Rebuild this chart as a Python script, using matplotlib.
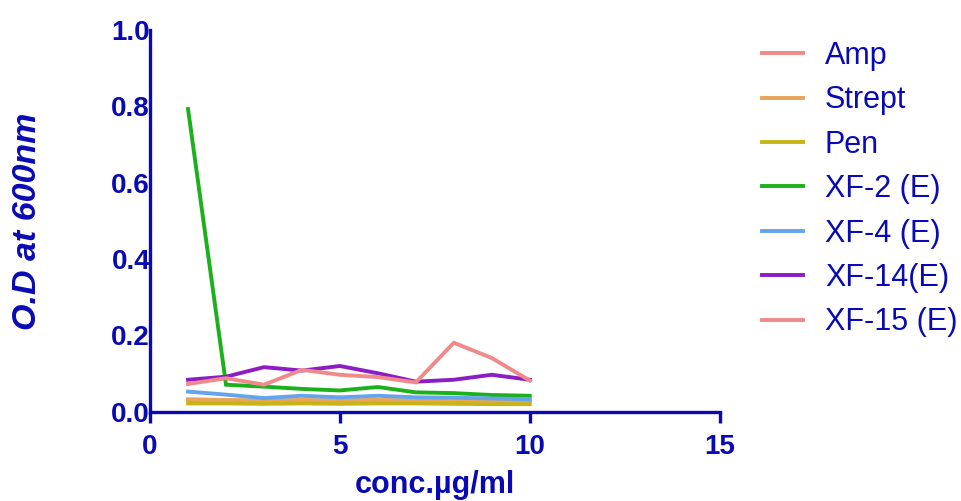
import matplotlib
matplotlib.use("Agg")
import matplotlib.pyplot as plt

plt.rcParams['font.family'] = ['Liberation Sans', 'DejaVu Sans']

conc = [1, 2, 3, 4, 5, 6, 7, 8, 9, 10]

amp    = [0.030, 0.029, 0.028, 0.029, 0.028, 0.030, 0.029, 0.028, 0.028, 0.027]
strept = [0.033, 0.031, 0.030, 0.031, 0.030, 0.031, 0.030, 0.029, 0.029, 0.028]
pen    = [0.022, 0.022, 0.021, 0.022, 0.021, 0.022, 0.022, 0.021, 0.020, 0.020]
xf2    = [0.793, 0.071, 0.066, 0.060, 0.056, 0.065, 0.051, 0.049, 0.044, 0.042]
xf4    = [0.053, 0.045, 0.036, 0.042, 0.038, 0.042, 0.038, 0.037, 0.035, 0.033]
xf14   = [0.084, 0.092, 0.117, 0.108, 0.120, 0.101, 0.079, 0.084, 0.097, 0.084]
xf15   = [0.073, 0.088, 0.071, 0.110, 0.097, 0.091, 0.077, 0.181, 0.141, 0.082]

series = [
    ("Amp", amp, "#ee8a88"),
    ("Strept", strept, "#e8a45a"),
    ("Pen", pen, "#c8b416"),
    ("XF-2 (E)", xf2, "#1cb01c"),
    ("XF-4 (E)", xf4, "#64a4ec"),
    ("XF-14(E)", xf14, "#8c1cc4"),
    ("XF-15 (E)", xf15, "#f08a8a"),
]

x_ticks = [0, 5, 10, 15]
y_ticks = [0.0, 0.2, 0.4, 0.6, 0.8, 1.0]

navy = "#0a0ab4"

fig = plt.figure(figsize=(9.62, 5.01), dpi=100)
ax = fig.add_axes([0.156, 0.178, 0.592, 0.762])

for name, vals, col in series:
    ax.plot(conc, vals, color=col, lw=2.8, label=name, solid_joinstyle='miter')

ax.set_xlim(0, 15)
ax.set_ylim(0, 1.0)
ax.set_xticks(x_ticks)
ax.set_yticks(y_ticks)
ax.set_xticklabels([str(t) for t in x_ticks])
ax.set_yticklabels([f"{t:.1f}" for t in y_ticks])

for s in ("top", "right"):
    ax.spines[s].set_visible(False)
for s in ("left", "bottom"):
    ax.spines[s].set_color(navy)
    ax.spines[s].set_linewidth(2.4)

ax.tick_params(axis='x', colors=navy, length=8, width=2.4, pad=8,
               labelsize=20)
ax.tick_params(axis='y', colors=navy, length=0, pad=0, labelsize=20)
for lab in ax.get_xticklabels() + ax.get_yticklabels():
    lab.set_fontweight('bold')

ax.set_xlabel("conc.\u00b5g/ml", fontsize=22, fontweight='bold', color=navy,
              labelpad=7)
ax.set_ylabel("O.D at 600nm", fontsize=24.5, fontweight='bold', style='italic',
              color=navy, labelpad=49)

leg = ax.legend(loc='upper left', bbox_to_anchor=(0.792, 0.918),
                bbox_transform=fig.transFigure, frameon=False,
                fontsize=22, handlelength=1.34, handletextpad=0.72,
                labelspacing=0.47, borderpad=0, borderaxespad=0)
for t in leg.get_texts():
    t.set_color(navy)

fig.savefig("out.png", dpi=100)
